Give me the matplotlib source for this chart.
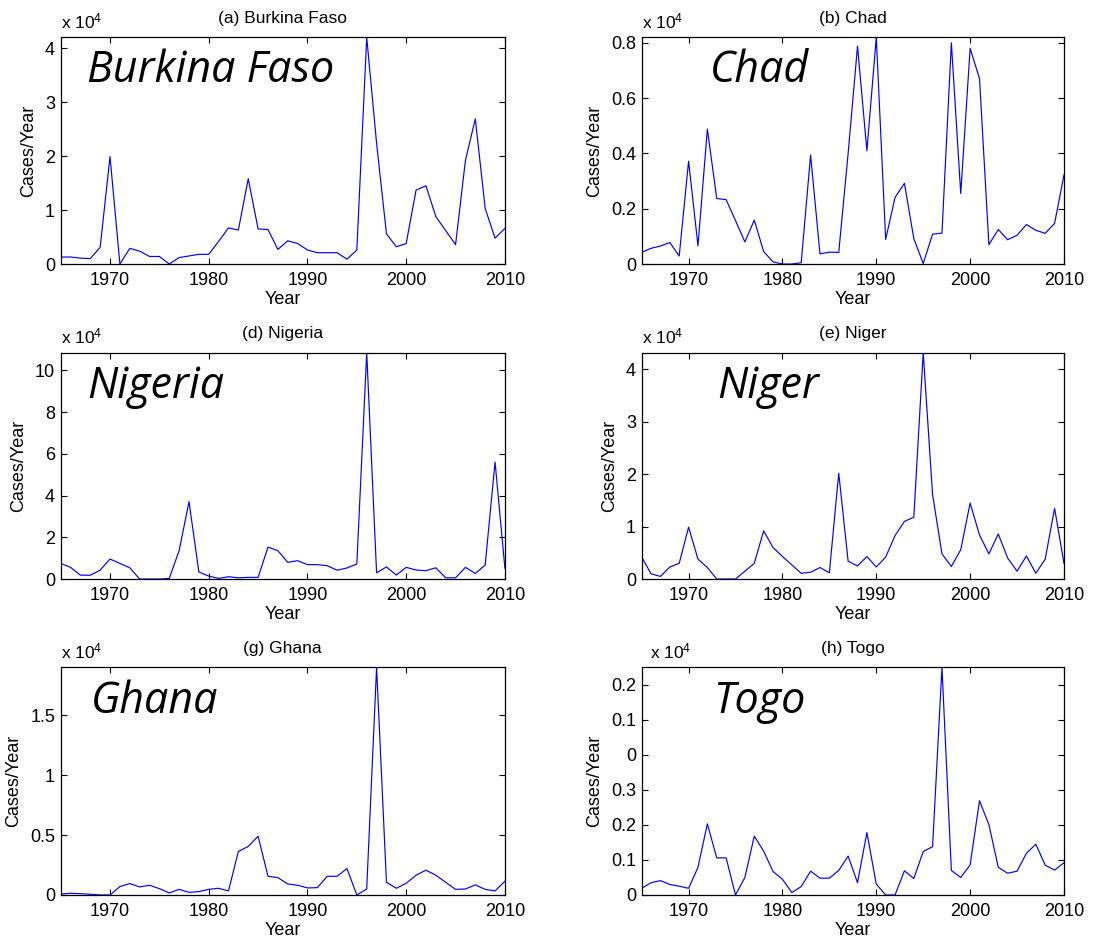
import numpy as np
import matplotlib
matplotlib.use("Agg")
import matplotlib.pyplot as plt

plt.rcParams['font.family'] = ['Liberation Sans', 'DejaVu Sans']
plt.rcParams['mathtext.fontset'] = 'custom'
plt.rcParams['mathtext.rm'] = 'Liberation Sans'
plt.rcParams['mathtext.it'] = 'Liberation Sans'

years = list(range(1965, 2011))

# values in units of 10^4 cases/year
burkina = [0.13, 0.13, 0.11, 0.10, 0.31, 1.99, 0.0, 0.29, 0.24, 0.14,
           0.14, 0.0, 0.12, 0.15, 0.18, 0.18, 0.42, 0.67, 0.63, 1.58,
           0.65, 0.64, 0.27, 0.43, 0.38, 0.26, 0.21, 0.21, 0.21, 0.09,
           0.26, 4.20, 2.24, 0.56, 0.32, 0.38, 1.37, 1.45, 0.88, 0.62,
           0.36, 1.92, 2.69, 1.03, 0.48, 0.66]
chad = [0.042, 0.057, 0.065, 0.078, 0.029, 0.372, 0.066, 0.488, 0.237, 0.233,
        0.157, 0.080, 0.159, 0.045, 0.008, 0.0, 0.0, 0.005, 0.394, 0.037,
        0.043, 0.042, 0.400, 0.788, 0.410, 0.820, 0.089, 0.241, 0.292, 0.092,
        0.002, 0.108, 0.112, 0.800, 0.255, 0.780, 0.671, 0.070, 0.125, 0.088,
        0.104, 0.143, 0.122, 0.111, 0.147, 0.322]
nigeria = [0.75, 0.56, 0.19, 0.18, 0.43, 0.96, 0.75, 0.54, 0.0, 0.0,
           0.0, 0.03, 1.36, 3.71, 0.34, 0.14, 0.03, 0.11, 0.06, 0.08,
           0.08, 1.53, 1.36, 0.80, 0.88, 0.69, 0.69, 0.64, 0.42, 0.53,
           0.72, 10.85, 0.30, 0.58, 0.19, 0.56, 0.43, 0.40, 0.54, 0.06,
           0.06, 0.56, 0.27, 0.67, 5.61, 0.51]
niger = [0.42, 0.10, 0.05, 0.23, 0.30, 0.99, 0.38, 0.22, 0.0, 0.0,
         0.0, 0.15, 0.30, 0.92, 0.60, 0.43, 0.27, 0.11, 0.13, 0.22,
         0.12, 2.02, 0.34, 0.25, 0.43, 0.23, 0.42, 0.83, 1.10, 1.18,
         4.32, 1.61, 0.48, 0.24, 0.56, 1.45, 0.84, 0.48, 0.86, 0.40,
         0.15, 0.44, 0.11, 0.38, 1.35, 0.30]
ghana = [0.008, 0.014, 0.011, 0.006, 0.0, 0.0, 0.070, 0.095, 0.067, 0.081,
         0.053, 0.017, 0.047, 0.022, 0.028, 0.047, 0.056, 0.034, 0.363, 0.405,
         0.490, 0.156, 0.145, 0.092, 0.081, 0.059, 0.061, 0.156, 0.156, 0.220,
         0.0, 0.050, 1.900, 0.106, 0.056, 0.098, 0.165, 0.207, 0.165, 0.106,
         0.047, 0.050, 0.084, 0.047, 0.034, 0.115]
togo = [0.019, 0.035, 0.041, 0.030, 0.025, 0.019, 0.079, 0.203, 0.106, 0.106,
        0.0, 0.050, 0.168, 0.125, 0.067, 0.045, 0.007, 0.024, 0.068, 0.048,
        0.048, 0.070, 0.111, 0.035, 0.178, 0.031, 0.0, 0.0, 0.069, 0.047,
        0.124, 0.138, 0.650, 0.070, 0.050, 0.086, 0.269, 0.201, 0.079, 0.062,
        0.068, 0.119, 0.145, 0.085, 0.071, 0.092]

titles = ['(a) Burkina Faso', '(b) Chad', '(d) Nigeria', '(e) Niger', '(g) Ghana', '(h) Togo']
names = ['Burkina Faso', 'Chad', 'Nigeria', 'Niger', 'Ghana', 'Togo']
series = [burkina, chad, nigeria, niger, ghana, togo]
ymax = [4.2, 0.82, 10.85, 4.32, 1.9, 0.65]
yticks = [[0, 1, 2, 3, 4],
          [0, 0.2, 0.4, 0.6, 0.8],
          [0, 2, 4, 6, 8, 10],
          [0, 1, 2, 3, 4],
          [0, 0.5, 1, 1.5],
          [0, 0.1, 0.2, 0.3, 0.4, 0.5, 0.6]]
ytick_labels = [['0', '1', '2', '3', '4'],
                ['0', '0.2', '0.4', '0.6', '0.8'],
                ['0', '2', '4', '6', '8', '10'],
                ['0', '1', '2', '3', '4'],
                ['0', '0.5', '1', '1.5'],
                ['0', '0.1', '0.2', '0.3', '0', '0.1', '0.2']]
xticks = [1970, 1980, 1990, 2000, 2010]

# layout (figure fractions)
lefts = [0.0547, 0.5786]
widths = [0.4006, 0.3808]
bottoms = [0.7191, 0.3840, 0.0479]
heights = [0.2412, 0.2408, 0.2422]
name_pos = [(0.059, 0.804), (0.162, 0.804), (0.059, 0.798),
            (0.178, 0.798), (0.0675, 0.798), (0.170, 0.798)]
sup_x = [0.0, 0.0, 0.0, 0.0, 0.0, 0.02]

fig = plt.figure(figsize=(11.09, 9.40), dpi=100)

for i in range(6):
    r, c = divmod(i, 2)
    ax = fig.add_axes([lefts[c], bottoms[r], widths[c], heights[r]])
    ax.plot(years, series[i], color='#0000ff', lw=0.85)
    ax.set_xlim(1965, 2010)
    ax.set_ylim(0, ymax[i])
    ax.set_xticks(xticks)
    ax.set_xticklabels([str(x) for x in xticks])
    ax.set_yticks(yticks[i])
    ax.set_yticklabels(ytick_labels[i])
    ax.tick_params(direction='in', top=True, right=True, length=4, width=0.8,
                   labelsize=13)
    ax.tick_params(axis='x', pad=6)
    ax.tick_params(axis='y', pad=4)
    for s in ax.spines.values():
        s.set_linewidth(0.9)
    ax.set_title(titles[i], fontsize=12.5, pad=10.5)
    ax.set_xlabel('Year', fontsize=13, labelpad=1.5)
    ax.set_ylabel('Cases/Year', fontsize=13, labelpad=6)
    ax.text(sup_x[i], 1.04, r'x 10$^{4}$', transform=ax.transAxes, fontsize=12.5,
            ha='left', va='baseline')
    ax.text(name_pos[i][0], name_pos[i][1], names[i], transform=ax.transAxes,
            fontsize=31, style='italic', family=['Open Sans', 'DejaVu Sans'],
            ha='left', va='baseline')

fig.savefig('out.png', dpi=100)
